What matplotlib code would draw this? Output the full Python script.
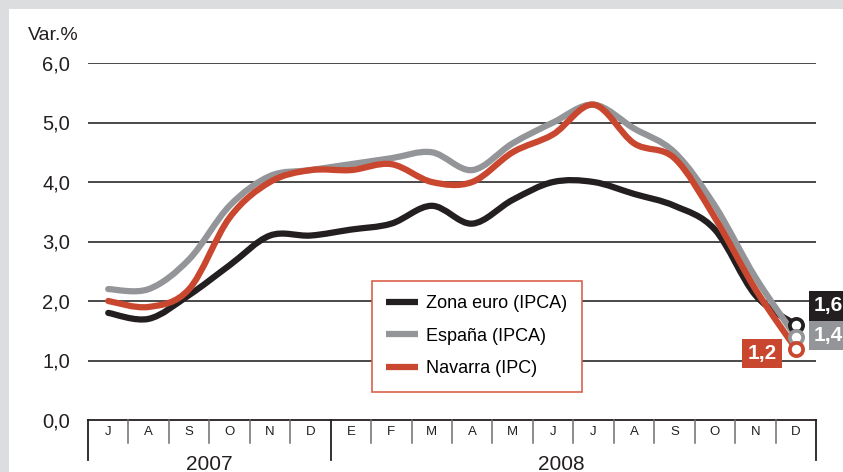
import numpy as np
import matplotlib
matplotlib.use("Agg")
import matplotlib.pyplot as plt
from matplotlib.path import Path
from matplotlib.patches import PathPatch, Rectangle
from matplotlib.lines import Line2D

plt.rcParams['font.family'] = ['Liberation Sans', 'DejaVu Sans']

months = ["J", "A", "S", "O", "N", "D", "E", "F", "M", "A", "M", "J", "J", "A", "S", "O", "N", "D"]
years = ["2007", "2008"]
zona_euro = [1.8, 1.7, 2.1, 2.6, 3.1, 3.1, 3.2, 3.3, 3.6, 3.3, 3.7, 4.0, 4.0, 3.8, 3.6, 3.2, 2.1, 1.6]
espana = [2.2, 2.2, 2.7, 3.6, 4.1, 4.2, 4.3, 4.4, 4.5, 4.2, 4.65, 5.0, 5.3, 4.9, 4.5, 3.6, 2.4, 1.4]
navarra = [2.0, 1.9, 2.2, 3.4, 4.0, 4.2, 4.2, 4.3, 4.0, 4.0, 4.5, 4.8, 5.3, 4.65, 4.4, 3.4, 2.2, 1.2]
series_names = ["Zona euro (IPCA)", "España (IPCA)", "Navarra (IPC)"]
end_labels = ["1,6", "1,4", "1,2"]

BLACK = "#231f20"
GRAY = "#939598"
RED = "#c9472f"


def smooth_path(x, y):
    # catmull-rom through the monthly points, as cubic bezier segments
    pts = np.column_stack([x, y]).astype(float)
    ext = np.vstack([pts[0], pts, pts[-1]])
    verts = [pts[0]]
    codes = [Path.MOVETO]
    for i in range(1, len(ext) - 2):
        p0, p1, p2, p3 = ext[i - 1], ext[i], ext[i + 1], ext[i + 2]
        verts += [p1 + (p2 - p0) / 6, p2 - (p3 - p1) / 6, p2]
        codes += [Path.CURVE4] * 3
    return Path(verts, codes)


fig = plt.figure(figsize=(8.43, 4.72), dpi=100, facecolor="#dcdddf")
fig.patches.append(Rectangle((9 / 843, 0), 1, 1 - 9 / 472, transform=fig.transFigure,
                             facecolor="white", edgecolor="none", zorder=-1))
ax = fig.add_axes([88 / 843, 1 - 420 / 472, 728 / 843, 357 / 472])
ax.set_facecolor("none")
x = np.arange(len(months))
ax.set_xlim(-0.5, len(months) - 0.5)
ax.set_ylim(0, 6)
for s in ax.spines.values():
    s.set_visible(False)
ax.set_xticks([])
ax.set_yticks(np.arange(0, 7))
ax.set_yticklabels([f"{v},0" for v in range(7)], fontsize=14.5, color="#231f20")
ax.tick_params(axis="y", length=0, pad=13)
for v in range(1, 7):
    ax.axhline(v, color="#3a3a3a", lw=1.3, zorder=1)

# month box below the axis
ax.plot([-0.5, len(months) - 0.5], [0, 0], color=BLACK, lw=1.3, clip_on=False)
for i in range(1, len(months)):
    if i == 6:
        continue
    ax.plot([i - 0.5, i - 0.5], [0, -0.39], color="#6d6e71", lw=1.1, clip_on=False)
for xv in [-0.5, 5.5, len(months) - 0.5]:
    ax.plot([xv, xv], [0, -0.67], color=BLACK, lw=1.3, clip_on=False)
for i, m in enumerate(months):
    ax.text(i, -0.2, m, ha="center", va="center", fontsize=9.5, color=BLACK)
ax.text(2.5, -0.74, years[0], ha="center", va="center", fontsize=15, color=BLACK)
ax.text(11.2, -0.74, years[1], ha="center", va="center", fontsize=15, color=BLACK)

fig.text(28 / 843, 1 - 35 / 472, "Var.%", fontsize=14, color=BLACK, va="center")

colors = [BLACK, GRAY, RED]
for i, (vals, c) in enumerate(zip([zona_euro, espana, navarra], colors)):
    ax.add_patch(PathPatch(smooth_path(x, vals), fill=False, edgecolor=c, lw=4.5,
                           capstyle="round", joinstyle="round", zorder=3 + i, clip_on=False))
    ax.plot(x[-1], vals[-1], "o", ms=9.5, mfc="white", mec=c, mew=2.7, zorder=6 + i, clip_on=False)

offsets = [(18, 19, "left"), (18, 1, "left"), (-19, -5, "right")]
for vals, c, lab, (dx, dy, ha) in zip([zona_euro, espana, navarra], colors, end_labels, offsets):
    ax.annotate(lab, (x[-1], vals[-1]), xytext=(dx * 0.72, dy * 0.72), textcoords="offset points",
                ha=ha, va="center", fontsize=15, fontweight="bold", color="white", zorder=10,
                annotation_clip=False,
                bbox=dict(boxstyle="square,pad=0.25", facecolor=c, edgecolor="none"))

handles = [Line2D([], [], color=c, lw=4.5, solid_capstyle="butt") for c in colors]
leg = ax.legend(handles, series_names, loc="upper left",
                bbox_to_anchor=(372 / 843, 1 - 281 / 472), bbox_transform=fig.transFigure,
                fontsize=13, frameon=True, fancybox=False, edgecolor="#d9614a",
                handlelength=1.75, handletextpad=0.45, labelspacing=0.85, borderpad=0.8,
                borderaxespad=0, framealpha=1)
leg.get_frame().set_linewidth(1.2)
leg.set_zorder(12)

fig.savefig("out.png", dpi=100, facecolor=fig.get_facecolor())
